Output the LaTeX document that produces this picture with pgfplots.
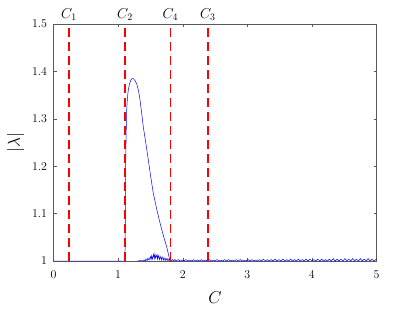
\documentclass[border=0pt]{standalone}
\usepackage{pgfplots}
\pgfplotsset{compat=1.18}
\begin{document}
\begin{tikzpicture}
\begin{axis}[
  scale only axis,
  width=323bp, height=237bp,
  xmin=0, xmax=5, ymin=1, ymax=1.5,
  xtick={0,1,2,3,4,5},
  ytick={1,1.1,1.2,1.3,1.4,1.5},
  yticklabel style={/pgf/number format/fixed,/pgf/number format/precision=1, xshift=-3bp},
  xticklabel style={yshift=-6bp},
  tick align=inside,
  major tick length=3bp,
  axis line style={gray!70!black, line width=0.5pt},
  tick style={gray!70!black, line width=0.4pt},
  ticklabel style={font=\fontsize{12}{14}\selectfont},
  xlabel={$C$},
  ylabel={$|\lambda|$},
  label style={font=\fontsize{18}{21}\selectfont},
  xlabel style={yshift=-7bp},
  ylabel style={yshift=1bp},
  clip=false,
]
% main branch
\addplot[blue, line width=0.5pt] coordinates {
 (0,1) (1.105,1.0) (1.110,1.06) (1.114,1.12) (1.118,1.213) (1.125,1.27) (1.133,1.319)
 (1.145,1.345) (1.158,1.361) (1.175,1.373) (1.195,1.381) (1.215,1.385) (1.235,1.385)
 (1.260,1.381) (1.288,1.374) (1.315,1.360) (1.339,1.340) (1.365,1.312) (1.39,1.283)
 (1.43,1.248) (1.468,1.213) (1.505,1.178) (1.545,1.143) (1.60,1.108) (1.649,1.080)
 (1.70,1.054) (1.752,1.030) (1.78,1.014) (1.80,1.002)
};
% noisy band
\addplot[blue, line width=0.5pt] coordinates {
 (1.30,1.0) (1.35,1.001) (1.38,1.0) (1.40,1.002) (1.42,1.0) (1.43,1.004) (1.45,1.001)
 (1.46,1.006) (1.48,1.002) (1.50,1.009) (1.51,1.003) (1.52,1.011) (1.53,1.004) (1.55,1.014)
 (1.56,1.005) (1.57,1.015) (1.58,1.006) (1.60,1.013) (1.61,1.004) (1.62,1.012) (1.64,1.003)
 (1.65,1.010) (1.67,1.002) (1.68,1.009) (1.70,1.002) (1.71,1.007) (1.73,1.001) (1.74,1.006)
 (1.76,1.001) (1.77,1.005) (1.79,1.0) (1.80,1.004) (1.82,1.0) (1.84,1.003) (1.86,1.0)
 (1.88,1.003) (1.90,1.0) (1.93,1.003) (1.96,1.0) (1.99,1.002) (2.02,1.0) (2.05,1.003)
 (2.08,1.0) (2.11,1.002) (2.14,1.0) (2.17,1.003) (2.20,1.0) (2.23,1.002) (2.26,1.0)
 (2.29,1.003) (2.32,1.0) (2.35,1.002) (2.38,1.0) (2.41,1.003) (2.44,1.0) (2.47,1.002)
 (2.50,1.0) (2.53,1.003) (2.56,1.0) (2.59,1.002) (2.62,1.0) (2.65,1.003) (2.68,1.0)
 (2.71,1.003) (2.74,1.0) (2.77,1.002) (2.80,1.0) (2.83,1.003) (2.86,1.0) (2.89,1.003)
 (2.92,1.0) (2.95,1.002) (2.98,1.0) (3.01,1.003) (3.04,1.0) (3.07,1.003) (3.10,1.0)
 (3.13,1.002) (3.16,1.0) (3.19,1.003) (3.22,1.0) (3.25,1.004) (3.28,1.0) (3.31,1.003)
 (3.34,1.0) (3.37,1.003) (3.40,1.0) (3.43,1.004) (3.46,1.0) (3.49,1.003) (3.52,1.0)
 (3.55,1.004) (3.58,1.0) (3.61,1.003) (3.64,1.0) (3.67,1.004) (3.70,1.0) (3.73,1.003)
 (3.76,1.0) (3.79,1.004) (3.82,1.0) (3.85,1.003) (3.88,1.0) (3.91,1.004) (3.94,1.0)
 (3.97,1.004) (4.00,1.0) (4.03,1.003) (4.06,1.0) (4.09,1.004) (4.12,1.0) (4.15,1.004)
 (4.18,1.0) (4.21,1.003) (4.24,1.0) (4.27,1.004) (4.30,1.0) (4.33,1.005) (4.36,1.0)
 (4.39,1.004) (4.42,1.0) (4.45,1.004) (4.48,1.0) (4.51,1.005) (4.54,1.0) (4.57,1.004)
 (4.60,1.0) (4.63,1.005) (4.66,1.0) (4.69,1.004) (4.72,1.0) (4.75,1.005) (4.78,1.0)
 (4.81,1.004) (4.84,1.0) (4.87,1.005) (4.90,1.0) (4.93,1.004) (4.96,1.0) (5.00,1.004)
};
% critical values
\addplot[red, line width=1.5pt, dash pattern=on 9bp off 5bp] coordinates {(0.24,1) (0.24,1.5)};
\addplot[red, line width=1.5pt, dash pattern=on 9bp off 5bp] coordinates {(1.107,1) (1.107,1.5)};
\addplot[red, line width=1.5pt, dash pattern=on 9bp off 5bp] coordinates {(1.81,1) (1.81,1.5)};
\addplot[red, line width=1.5pt, dash pattern=on 9bp off 5bp] coordinates {(2.39,1) (2.39,1.5)};
\node[above, font=\fontsize{14}{16}\selectfont, inner sep=0bp, yshift=3bp] at (axis cs:0.24,1.5) {$C_1$};
\node[above, font=\fontsize{14}{16}\selectfont, inner sep=0bp, yshift=3bp] at (axis cs:1.107,1.5) {$C_2$};
\node[above, font=\fontsize{14}{16}\selectfont, inner sep=0bp, yshift=3bp] at (axis cs:1.81,1.5) {$C_4$};
\node[above, font=\fontsize{14}{16}\selectfont, inner sep=0bp, yshift=3bp] at (axis cs:2.39,1.5) {$C_3$};
\end{axis}
\path ([shift={(-53.5bp,-51bp)}]current axis.south west) rectangle ([shift={(38.5bp,24bp)}]current axis.north east);
\end{tikzpicture}
\end{document}
